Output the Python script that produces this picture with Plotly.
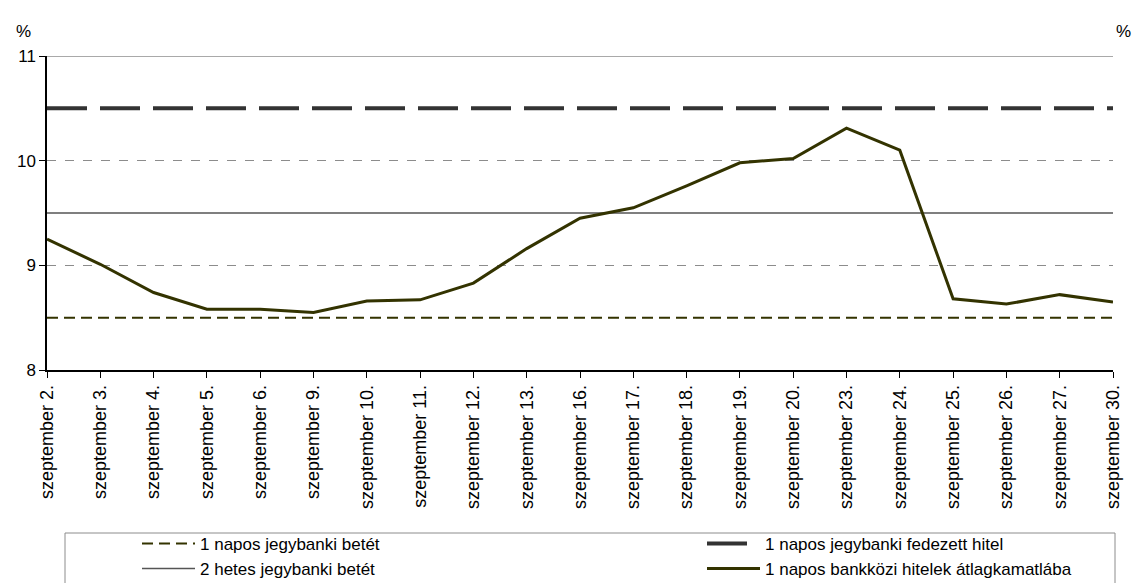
import plotly.graph_objects as go

dates = ["szeptember 2.", "szeptember 3.", "szeptember 4.", "szeptember 5.", "szeptember 6.",
         "szeptember 9.", "szeptember 10.", "szeptember 11.", "szeptember 12.", "szeptember 13.",
         "szeptember 16.", "szeptember 17.", "szeptember 18.", "szeptember 19.", "szeptember 20.",
         "szeptember 23.", "szeptember 24.", "szeptember 25.", "szeptember 26.", "szeptember 27.",
         "szeptember 30."]

bankkozi = [9.25, 9.01, 8.74, 8.58, 8.58, 8.55, 8.66, 8.67, 8.83, 9.16, 9.45,
            9.55, 9.76, 9.98, 10.02, 10.31, 10.10, 8.68, 8.63, 8.72, 8.65]
betet_1nap = [8.5, 8.5, 8.5, 8.5, 8.5, 8.5, 8.5, 8.5, 8.5, 8.5, 8.5,
              8.5, 8.5, 8.5, 8.5, 8.5, 8.5, 8.5, 8.5, 8.5, 8.5]
fedezett = [10.5, 10.5, 10.5, 10.5, 10.5, 10.5, 10.5, 10.5, 10.5, 10.5, 10.5,
            10.5, 10.5, 10.5, 10.5, 10.5, 10.5, 10.5, 10.5, 10.5, 10.5]
hetes_2 = [9.5, 9.5, 9.5, 9.5, 9.5, 9.5, 9.5, 9.5, 9.5, 9.5, 9.5,
           9.5, 9.5, 9.5, 9.5, 9.5, 9.5, 9.5, 9.5, 9.5, 9.5]
y_ticks = [8, 9, 10, 11]

W, H = 1148, 583
L, R, T, B = 47, 1113, 56, 370


def px(x):
    return (x - L) / (R - L)


def py(y):
    return (B - y) / (B - T)


FONT = "Liberation Sans, Arial, sans-serif"

fig = go.Figure()
fig.add_trace(go.Scatter(x=dates, y=betet_1nap, mode="lines", name="1 napos jegybanki betét",
                         line=dict(color="#333300", width=2, dash="11px,6px"), legend="legend"))
fig.add_trace(go.Scatter(x=dates, y=fedezett, mode="lines", name="1 napos jegybanki fedezett hitel",
                         line=dict(color="#333333", width=4, dash="40px,13px"), legend="legend2"))
fig.add_trace(go.Scatter(x=dates, y=hetes_2, mode="lines", name="2 hetes jegybanki betét",
                         line=dict(color="#555555", width=1.5), legend="legend3"))
fig.add_trace(go.Scatter(x=dates, y=bankkozi, mode="lines", name="1 napos bankközi hitelek átlagkamatlába",
                         line=dict(color="#333300", width=3), legend="legend4"))

legend_common = dict(orientation="v", xanchor="left", yanchor="middle",
                     font=dict(family=FONT, size=17, color="black"),
                     bgcolor="rgba(0,0,0,0)", borderwidth=0, itemwidth=53)

fig.update_layout(
    width=W, height=H,
    margin=dict(l=L, r=W - R, t=T, b=H - B, autoexpand=False),
    plot_bgcolor="white", paper_bgcolor="white",
    font=dict(family=FONT, size=17, color="black"),
    xaxis=dict(type="category", range=[0, len(dates) - 1], showgrid=False,
               showline=True, linecolor="black", linewidth=1.5,
               ticks="outside", ticklen=6, tickcolor="black",
               tickangle=-90, tickfont=dict(size=18)),
    yaxis=dict(range=[8, 11], tickvals=y_ticks, showgrid=True, gridcolor="#8c8c8c",
               griddash="dash", gridwidth=1, zeroline=False,
               showline=True, linecolor="black", linewidth=1.5,
               ticks="outside", ticklen=6, tickcolor="black", tickfont=dict(size=17)),
    yaxis2=dict(range=[8, 11], tickvals=y_ticks, overlaying="y", side="right",
                showgrid=False, zeroline=False, showline=True, linecolor="black",
                linewidth=1.5, ticks="outside", ticklen=6, tickcolor="black",
                tickfont=dict(size=17)),
    legend=dict(x=px(137), y=py(544), **legend_common),
    legend2=dict(x=px(702), y=py(544), **legend_common),
    legend3=dict(x=px(137), y=py(569), **legend_common),
    legend4=dict(x=px(702), y=py(569), **legend_common),
    showlegend=True,
)

fig.add_shape(type="line", xref="paper", yref="y", x0=0, x1=1, y0=11, y1=11,
              line=dict(color="#8c8c8c", width=1.5))
fig.add_shape(type="rect", xref="paper", yref="paper", x0=px(65), x1=px(1115),
              y0=py(533), y1=py(600), line=dict(color="#8c8c8c", width=1))

fig.add_annotation(text="%", xref="paper", yref="paper", x=px(14), y=py(20),
                   showarrow=False, font=dict(size=17))
fig.add_annotation(text="%", xref="paper", yref="paper", x=px(1133), y=py(20),
                   showarrow=False, font=dict(size=17))

fig.write_html("out.html", config={"displayModeBar": False},
               post_script="document.body.style.margin='0';document.body.style.overflow='hidden';")
